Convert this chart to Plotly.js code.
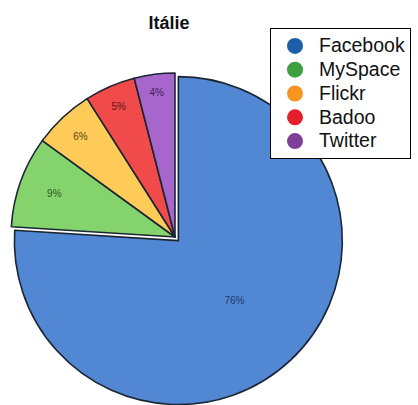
<!DOCTYPE html>
<html>
<head>
<meta charset="utf-8">
<script src="https://cdn.plot.ly/plotly-3.0.1.min.js"></script>
<style>
html,body{margin:0;padding:0;overflow:hidden;background:#fff;}
#chart{width:418px;height:430px;}
</style>
</head>
<body>
<div id="chart"></div>
<script>
var categories = ["Facebook", "MySpace", "Flickr", "Badoo", "Twitter"];
var shares = [76, 9, 6, 5, 4];
var sliceColors = ["#5187d3", "#84d36c", "#fecb58", "#f04a4a", "#a766cb"];
var legendColors = ["#1e5ea8", "#3f9f40", "#f6951f", "#e3202b", "#7d3f98"];
var labelColors = ["#1c3a6e", "#2e5a1f", "#5b4811", "#5e1212", "#3e1f52"];
var pulls = [0.03, 0, 0, 0, 0];
var chartTitle = "Itálie";

var traces = [{
  type: "pie",
  labels: categories,
  values: shares,
  sort: false,
  direction: "clockwise",
  rotation: 0,
  pull: pulls,
  marker: {colors: sliceColors, line: {color: "#1b2533", width: 1.6}},
  textinfo: "percent",
  textposition: "inside",
  insidetextorientation: "horizontal",
  textfont: {family: "Liberation Sans, Arial, sans-serif", size: 10, color: labelColors},
  domain: {x: [0.0146, 0.8227], y: [0.056, 0.8416]},
  showlegend: false,
  hoverinfo: "label+percent"
}];

categories.forEach(function(name, i){
  traces.push({
    type: "scatter",
    mode: "markers",
    x: [null], y: [null],
    name: '<span style="font-size:19.5px">' + name + '</span>',
    marker: {color: legendColors[i], size: 17, symbol: "circle"},
    showlegend: true,
    hoverinfo: "skip"
  });
});

var layout = {
  width: 418,
  height: 430,
  margin: {l: 0, r: 0, t: 0, b: 0},
  paper_bgcolor: "#ffffff",
  plot_bgcolor: "rgba(0,0,0,0)",
  title: {
    text: "<b>" + chartTitle + "</b>",
    font: {family: "Liberation Sans, Arial, sans-serif", size: 18, color: "#111"},
    x: 169/418, xref: "container", xanchor: "center",
    y: 1 - 23/430, yref: "container", yanchor: "middle"
  },
  xaxis: {visible: false},
  yaxis: {visible: false},
  showlegend: true,
  legend: {
    x: 270/418, xanchor: "left",
    y: 1 - 28/430, yanchor: "top",
    bgcolor: "#ffffff",
    bordercolor: "#000000",
    borderwidth: 1,
    itemwidth: 38,
    font: {family: "Liberation Sans, Arial, sans-serif", size: 16, color: "#111"}
  }
};

Plotly.newPlot("chart", traces, layout, {displayModeBar: false, staticPlot: true});
</script>
</body>
</html>
